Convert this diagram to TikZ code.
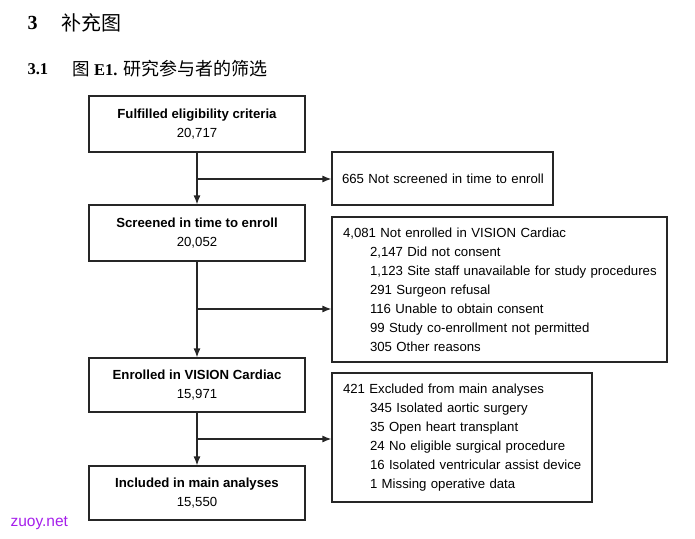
\documentclass[tikz,border=0pt]{standalone}
\usepackage{fontspec}
\setmainfont{Liberation Serif}
\setsansfont{Liberation Sans}
\newfontfamily\cjk{Noto Sans CJK SC}
\usetikzlibrary{arrows.meta}
\definecolor{wmark}{RGB}{165,30,235}
\tikzstyle{stage} = [draw, minimum width=216pt, align=center, inner sep=0pt]
\tikzstyle{drop} = [draw, align=left, inner xsep=10pt, inner ysep=0pt]
\tikzstyle{flow} = [font=\sffamily\fontsize{13.2}{18.5}\selectfont]
\newcommand{\reason}[1]{\hspace*{27pt}\mbox{#1}}

\begin{document}
\begin{tikzpicture}[x=1pt,y=-1pt,line width=1.2pt,draw=black!85,>={Latex[length=9pt,width=7pt]}]
	  \useasboundingbox (0,0) rectangle (695,538);
	  % headings
	  \node (sec) at (27,23) [anchor=west,inner sep=0pt,font=\fontsize{20}{24}\selectfont\bfseries] {3};
	  \node (sect) at (61,23) [anchor=west,inner sep=0pt,font=\fontsize{20}{24}\selectfont\cjk] {补充图};
	  \node (sub) at (27,69) [anchor=west,inner sep=0pt,font=\fontsize{16.5}{20}\selectfont\bfseries] {3.1};
	  \node (subt) at (72,69) [anchor=west,inner sep=0pt,font=\fontsize{16.5}{20}\selectfont] {{\fontsize{17.5}{20}\selectfont\cjk 图} \textbf{E1.} {\fontsize{18}{20}\selectfont\cjk 研究参与者的筛选}};

	  % main stages
	  \node (fec) at (197,124) [stage,flow,minimum height=56pt] {\textbf{Fulfilled eligibility criteria}\\20,717};
	  \node (scr) at (197,233) [stage,flow,minimum height=56pt] {\textbf{Screened in time to enroll}\\20,052};
	  \node (enr) at (197,385) [stage,flow,minimum height=54pt] {\textbf{Enrolled in VISION Cardiac}\\15,971};
	  \node (inc) at (197,493) [stage,flow,minimum height=54pt] {\textbf{Included in main analyses}\\15,550};

	  % exclusions
	  \node (notscr) at (442.5,178.5) [drop,flow,text width=201pt,minimum height=53pt] {\mbox{665 Not screened in time to enroll}};
	  \node (notenr) at (499.5,289.5) [drop,flow,inner xsep=11pt,text width=313pt,minimum height=145pt,font=\sffamily\fontsize{13.2}{19}\selectfont] {\mbox{4,081 Not enrolled in VISION Cardiac}\\
	    \reason{2,147 Did not consent}\\
	    \reason{1,123 Site staff unavailable for study procedures}\\
	    \reason{291 Surgeon refusal}\\
	    \reason{116 Unable to obtain consent}\\
	    \reason{99 Study co-enrollment not permitted}\\
	    \reason{305 Other reasons}};
	  \node (excl) at (462,437.5) [drop,flow,inner xsep=11pt,text width=238pt,minimum height=129pt,font=\sffamily\fontsize{13.2}{19}\selectfont] {\mbox{421 Excluded from main analyses}\\
	    \reason{345 Isolated aortic surgery}\\
	    \reason{35 Open heart transplant}\\
	    \reason{24 No eligible surgical procedure}\\
	    \reason{16 Isolated ventricular assist device}\\
	    \reason{1 Missing operative data}};

	  \node (wm) at (10,523) [anchor=west,inner sep=0pt,text=wmark,font=\sffamily\fontsize{15.5}{18}\selectfont] {zuoy.net};

	  % branch points
	  \coordinate (b1) at (197,179);
	  \coordinate (b2) at (197,309);
	  \coordinate (b3) at (197,439);

	  \draw [->] (fec) -- (scr);
	  \draw [->] (scr) -- (enr);
	  \draw [->] (enr) -- (inc);
	  \draw [->] (b1) -- (b1 -| notscr.west);
	  \draw [->] (b2) -- (b2 -| notenr.west);
	  \draw [->] (b3) -- (b3 -| excl.west);
	\end{tikzpicture}
\end{document}
